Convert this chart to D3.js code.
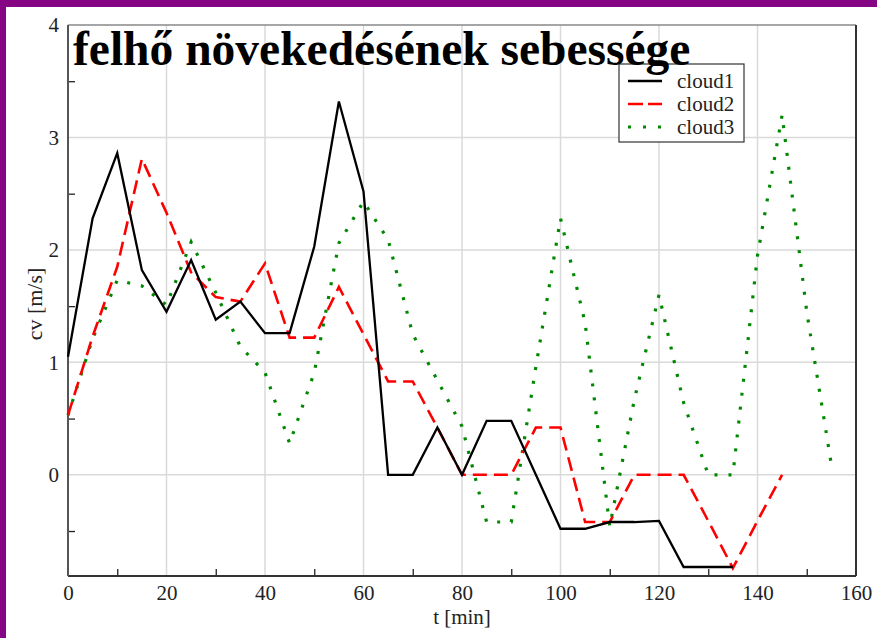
<!DOCTYPE html>
<html>
<head>
<meta charset="utf-8">
<script src="https://cdn.jsdelivr.net/npm/d3@7/dist/d3.min.js"></script>
<style>
  html, body { margin: 0; padding: 0; background: #fff; }
  svg { display: block; }
  text { font-family: "Liberation Serif", "DejaVu Serif", serif; }
</style>
</head>
<body>
<svg id="chart" width="877" height="638" font-family="Liberation Serif, serif"></svg>
<script>
// ---- data ----
const title = "felhő növekedésének sebessége";
const xLabel = "t [min]";
const yLabel = "cv [m/s]";
const seriesNames = ["cloud1", "cloud2", "cloud3"];

const tCloud1 = d3.range(0, 140, 5);   // 0..135
const cloud1 = [1.05, 2.28, 2.86, 1.82, 1.45, 1.91, 1.38, 1.54, 1.26, 1.26,
                2.03, 3.32, 2.52, 0, 0, 0.42, 0, 0.48, 0.48, 0,
                -0.48, -0.48, -0.42, -0.42, -0.41, -0.82, -0.82, -0.82];

const tCloud2 = d3.range(0, 150, 5);   // 0..145
const cloud2 = [0.53, 1.23, 1.85, 2.81, 2.33, 1.80, 1.58, 1.54, 1.88, 1.22,
                1.22, 1.67, 1.25, 0.83, 0.83, 0.42, 0, 0, 0, 0.42,
                0.42, -0.42, -0.42, 0, 0, 0, -0.41, -0.83, -0.41, 0];

const tCloud3 = d3.range(0, 160, 5);   // 0..155
const cloud3 = [0.53, 1.21, 1.73, 1.68, 1.51, 2.07, 1.62, 1.14, 0.91, 0.28,
                0.91, 2.06, 2.43, 2.09, 1.25, 0.84, 0.43, -0.42, -0.42, 0.96,
                2.28, 1.35, -0.46, 0.67, 1.60, 0.64, 0, 0, 1.95, 3.20,
                1.45, 0.09];

const xTicksMajor = [0, 20, 40, 60, 80, 100, 120, 140, 160];
const xTicksMinor = [10, 30, 50, 70, 90, 110, 130, 150];
const yTicksMajor = [0, 1, 2, 3, 4];
const yTicksMinor = [-0.5, 0.5, 1.5, 2.5, 3.5];

// ---- layout ----
const FONT = "Liberation Serif, DejaVu Serif, serif";
const svg = d3.select("#chart");
const W = 877, H = 638;
const plot = { left: 68, right: 856, top: 25, bottom: 576 };

// purple frame (top and left)
svg.append("rect").attr("x", 0).attr("y", 0).attr("width", W).attr("height", 7).attr("fill", "#850585");
svg.append("rect").attr("x", 0).attr("y", 0).attr("width", 6).attr("height", H).attr("fill", "#850585");

const x = d3.scaleLinear().domain([0, 160]).range([plot.left, plot.right]);
const y = d3.scaleLinear().domain([-0.9, 4]).range([plot.bottom, plot.top]);

// grid
const grid = svg.append("g");
grid.selectAll(".gx").data(xTicksMajor.filter(d => d > 0 && d < 160)).join("line")
  .attr("x1", d => x(d)).attr("x2", d => x(d))
  .attr("y1", plot.top).attr("y2", plot.bottom)
  .attr("stroke", "#dadada").attr("stroke-width", 1.5);
grid.selectAll(".gy").data(yTicksMajor.filter(d => d < 4)).join("line")
  .attr("x1", plot.left).attr("x2", plot.right)
  .attr("y1", d => y(d)).attr("y2", d => y(d))
  .attr("stroke", "#dadada").attr("stroke-width", 1.5);

// inward ticks via axes
const tickG = svg.append("g");
const xAxisMinor = d3.axisTop(x).tickValues(xTicksMinor).tickSize(7).tickFormat("");
tickG.append("g").attr("transform", `translate(0,${plot.bottom})`).call(xAxisMinor)
  .call(g => g.select(".domain").remove())
  .call(g => g.selectAll("line").attr("stroke", "#222").attr("stroke-width", 1.3));
const yAxisMinor = d3.axisRight(y).tickValues(yTicksMinor).tickSize(7).tickFormat("");
tickG.append("g").attr("transform", `translate(${plot.left},0)`).call(yAxisMinor)
  .call(g => g.select(".domain").remove())
  .call(g => g.selectAll("line").attr("stroke", "#222").attr("stroke-width", 1.3));

// tick labels via axes
const xAxis = d3.axisBottom(x).tickValues(xTicksMajor).tickSize(0).tickPadding(9).tickFormat(d3.format("d"));
svg.append("g").attr("transform", `translate(0,${plot.bottom})`).call(xAxis)
  .attr("font-family", FONT)
  .call(g => g.select(".domain").remove())
  .call(g => g.selectAll("text").attr("font-size", 21).attr("fill", "#222").attr("font-family", FONT));
const yAxis = d3.axisLeft(y).tickValues(yTicksMajor).tickSize(0).tickPadding(9).tickFormat(d3.format("d"));
svg.append("g").attr("transform", `translate(${plot.left},0)`).call(yAxis)
  .attr("font-family", FONT)
  .call(g => g.select(".domain").remove())
  .call(g => g.selectAll("text").attr("font-size", 21).attr("fill", "#222").attr("font-family", FONT));

// frame
svg.append("line").attr("x1", plot.left).attr("x2", plot.right).attr("y1", plot.top).attr("y2", plot.top)
  .attr("stroke", "#888").attr("stroke-width", 1.5);
svg.append("line").attr("x1", plot.right).attr("x2", plot.right).attr("y1", plot.top).attr("y2", plot.bottom)
  .attr("stroke", "#333").attr("stroke-width", 2);
svg.append("line").attr("x1", plot.left).attr("x2", plot.right).attr("y1", plot.bottom).attr("y2", plot.bottom)
  .attr("stroke", "#333").attr("stroke-width", 2);
svg.append("line").attr("x1", plot.left).attr("x2", plot.left).attr("y1", plot.top).attr("y2", plot.bottom)
  .attr("stroke", "#555").attr("stroke-width", 2);

// series
const styles = [
  { color: "#000000", width: 2.3, dash: null },
  { color: "#ff0000", width: 2.6, dash: "14,7" },
  { color: "#008800", width: 3.2, dash: "3,11" }
];
const series = [
  { t: tCloud1, v: cloud1 },
  { t: tCloud2, v: cloud2 },
  { t: tCloud3, v: cloud3 }
];
const line = d3.line().x(d => x(d[0])).y(d => y(d[1]));
const linesG = svg.append("g");
[2, 1, 0].forEach(i => {
  const s = series[i], st = styles[i];
  linesG.append("path")
    .datum(d3.zip(s.t, s.v))
    .attr("d", line)
    .attr("fill", "none")
    .attr("stroke", st.color)
    .attr("stroke-width", st.width)
    .attr("stroke-dasharray", st.dash)
    .attr("stroke-linejoin", "miter");
});

// legend
const lg = svg.append("g");
lg.append("rect").attr("x", 619).attr("y", 64).attr("width", 125).attr("height", 78)
  .attr("fill", "#fff").attr("stroke", "#333").attr("stroke-width", 1.2);
seriesNames.forEach((name, i) => {
  const yy = 81 + i * 23;
  const st = styles[i];
  lg.append("line").attr("x1", 628).attr("x2", 662).attr("y1", yy).attr("y2", yy)
    .attr("stroke", st.color).attr("stroke-width", st.width)
    .attr("stroke-dasharray", i === 2 ? "3,12" : (i === 1 ? "15,5" : null));
  lg.append("text").attr("x", 677).attr("y", yy + 7).attr("font-size", 21)
    .attr("font-family", FONT).attr("fill", "#222").text(name);
});

// title
svg.append("text").attr("x", 73).attr("y", 65)
  .attr("font-size", 47.5).attr("font-weight", "bold").attr("font-family", FONT).attr("fill", "#000")
  .text(title);

// axis labels
svg.append("text").attr("x", 462).attr("y", 624).attr("text-anchor", "middle")
  .attr("font-size", 21).attr("font-family", FONT).attr("fill", "#222").text(xLabel);
svg.append("text").attr("transform", "translate(42,304) rotate(-90)")
  .attr("text-anchor", "middle").attr("font-size", 22).attr("font-family", FONT).attr("fill", "#222").text(yLabel);
</script>
</body>
</html>
